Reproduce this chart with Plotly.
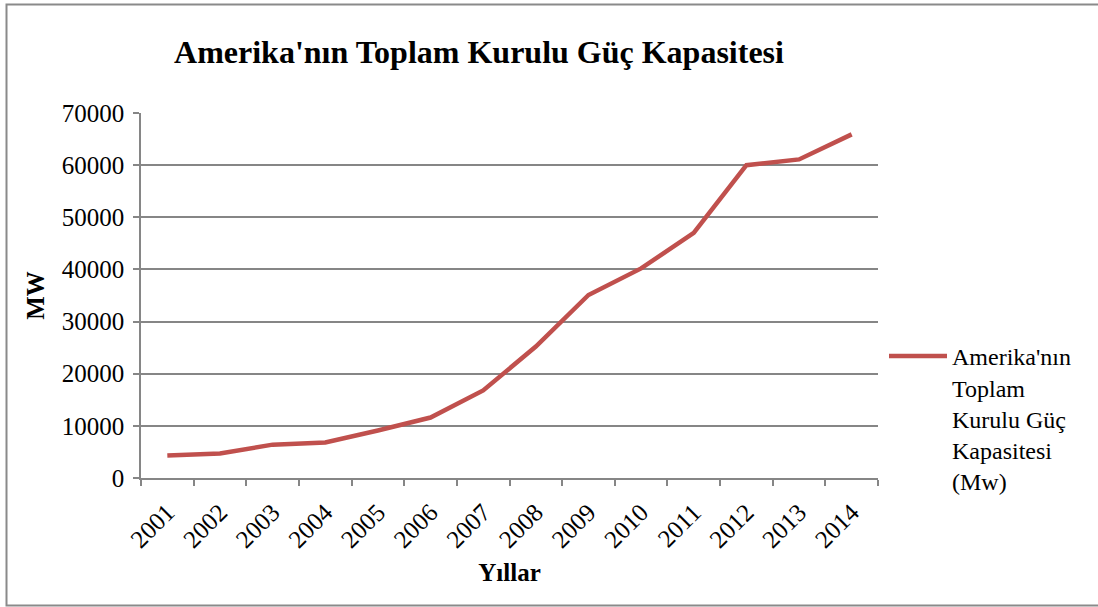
import plotly.graph_objects as go

years = ["2001", "2002", "2003", "2004", "2005", "2006", "2007",
         "2008", "2009", "2010", "2011", "2012", "2013", "2014"]
capacity_mw = [4300, 4700, 6400, 6800, 9100, 11600, 16800,
               25200, 35100, 40200, 47000, 60000, 61100, 65900]
y_ticks = [0, 10000, 20000, 30000, 40000, 50000, 60000, 70000]

W, H = 1098, 607
L, R, T, B = 141, 878, 113, 478
pw, ph = R - L, B - T

def px(x):
    return (x - L) / pw

def py(y):
    return (B - y) / ph

font_family = "Liberation Serif, Times New Roman, serif"

fig = go.Figure()
fig.add_trace(go.Scatter(
    x=years, y=capacity_mw, mode="lines",
    name="Amerika'nın<br>Toplam<br>Kurulu Güç<br>Kapasitesi<br>(Mw)",
    line=dict(color="#C0504D", width=4.5),
))

fig.update_layout(
    width=W, height=H,
    margin=dict(l=L, r=W - R, t=T, b=H - B),
    paper_bgcolor="white", plot_bgcolor="white",
    font=dict(family=font_family, color="black", size=25),
    title=dict(text="<b>Amerika'nın Toplam Kurulu Güç Kapasitesi</b>",
               x=(175 + 783) / 2 / W, xanchor="center",
               y=1 - 52 / H, yanchor="middle",
               font=dict(size=32, family=font_family)),
    showlegend=True,
    legend=dict(x=px(884), xanchor="left", y=py(334), yanchor="top",
                valign="top", itemwidth=58,
                font=dict(size=24, family=font_family),
                bgcolor="rgba(0,0,0,0)", tracegroupgap=0),
    xaxis=dict(
        type="category", tickangle=-45, tickson="boundaries",
        ticks="outside", ticklen=6, tickcolor="#868686", tickwidth=1.5,
        showline=True, linecolor="#868686", linewidth=1.5,
        showgrid=False, zeroline=False,
        ticklabelstandoff=8,
        tickfont=dict(size=25, family=font_family),
        title=dict(text="<b>Yıllar</b>", font=dict(size=25, family=font_family),
                   standoff=12),
        range=[-0.5, len(years) - 0.5],
    ),
    yaxis=dict(
        range=[0, 70000], tickvals=y_ticks, tickformat="d",
        ticks="outside", ticklen=6, tickcolor="#868686", tickwidth=1.5,
        showline=True, linecolor="#868686", linewidth=1.5,
        showgrid=True, gridcolor="#868686", gridwidth=1.5,
        zeroline=False,
        ticklabelstandoff=4,
        tickfont=dict(size=25, family=font_family),
        title=dict(text="<b>MW</b>", font=dict(size=25, family=font_family),
                   standoff=10),
    ),
    shapes=[dict(type="rect", xref="paper", yref="paper",
                 x0=px(6.5), x1=px(1130), y0=py(605.5), y1=py(4.5),
                 line=dict(color="#8a8a8a", width=2), layer="below")],
)

fig.write_html("out.html", config={"displayModeBar": False},
               post_script="document.body.style.margin='0';"
                           "document.body.style.padding='0';")
